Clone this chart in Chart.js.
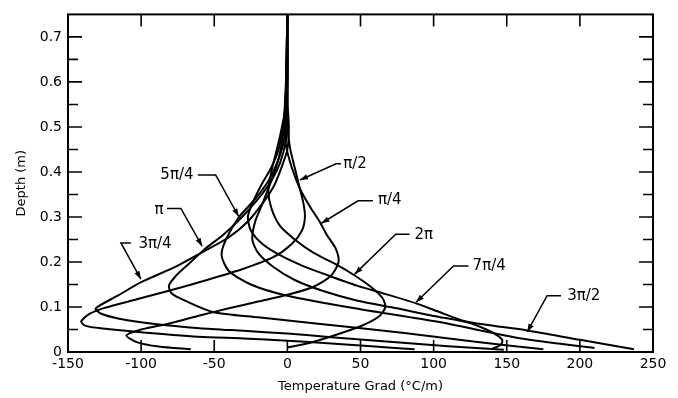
<!DOCTYPE html>
<html>
<head>
<meta charset="utf-8">
<script src="https://cdn.jsdelivr.net/npm/chart.js@4.4.1/dist/chart.umd.min.js"></script>
<style>
  html, body { margin: 0; padding: 0; background: #fff; }
  #wrap { width: 678px; height: 398px; }
</style>
</head>
<body>
<div id="wrap"><canvas id="chart"></canvas></div>
<script>
// Depth (m) and temperature gradient (degC/m)
const depth_3pi2 = [0.006, 0.027, 0.048, 0.067, 0.09, 0.108, 0.128, 0.147, 0.17, 0.192, 0.215, 0.24, 0.27, 0.3, 0.33, 0.37, 0.41, 0.45, 0.5, 0.56, 0.62, 0.75];
const grad_3pi2  = [237, 200, 164, 123, 103, 88, 68, 48, 28, 10, -5, -17, -25, -27, -24, -18, -11, -6, -3, -1, 0, 0];

const depth_7pi4 = [0.007, 0.016, 0.026, 0.036, 0.05, 0.066, 0.08, 0.097, 0.114, 0.135, 0.16, 0.19, 0.22, 0.25, 0.29, 0.33, 0.38, 0.43, 0.48, 0.54, 0.6, 0.75];
const grad_7pi4  = [140, 146, 147, 144, 136, 123, 100, 75, 48, 25, 5, -10, -20, -24, -22, -17, -11, -6, -3, -1, 0, 0];

const depth_2pi = [0.01, 0.02, 0.04, 0.06, 0.08, 0.1, 0.12, 0.145, 0.17, 0.195, 0.22, 0.25, 0.28, 0.32, 0.36, 0.4, 0.44, 0.48, 0.53, 0.58, 0.75];
const grad_2pi  = [0, 15, 35, 52, 63, 67, 65, 57, 46, 33, 18, 5, -5, -11, -13, -11, -8, -5, -2, -1, 0];

const depth_pi4 = [0.006, 0.012, 0.022, 0.037, 0.05, 0.064, 0.081, 0.097, 0.112, 0.127, 0.145, 0.17, 0.2, 0.23, 0.26, 0.29, 0.32, 0.36, 0.41, 0.46, 0.52, 0.6, 0.75];
const grad_pi4  = [-66, -88, -103, -110, -100, -80, -60, -40, -20, 0, 18, 30, 35, 33, 27, 22, 16, 9, 3, -1, -2, -1, 0];

const depth_pi2 = [0.006, 0.012, 0.019, 0.025, 0.03, 0.034, 0.045, 0.052, 0.058, 0.068, 0.085, 0.098, 0.117, 0.136, 0.16, 0.185, 0.21, 0.24, 0.27, 0.3, 0.33, 0.37, 0.41, 0.45, 0.5, 0.56, 0.75];
const grad_pi2  = [87, 60, 30, 0, -30, -61, -104, -126, -138, -141, -135, -125, -103, -81, -55, -30, -10, 3, 10, 12, 11, 8, 5, 2, 0, -1, 0];

const depth_3pi4 = [0.005, 0.013, 0.023, 0.033, 0.041, 0.047, 0.053, 0.063, 0.074, 0.086, 0.097, 0.125, 0.155, 0.19, 0.222, 0.255, 0.29, 0.33, 0.37, 0.41, 0.45, 0.5, 0.56, 0.75];
const grad_3pi4  = [148, 110, 70, 30, 0, -30, -60, -92, -115, -128, -131, -116, -100, -76, -58, -40, -27, -17, -9, -4, 0, 1, 0, 0];

const depth_pi = [0.006, 0.022, 0.042, 0.063, 0.077, 0.089, 0.114, 0.13, 0.147, 0.17, 0.2, 0.23, 0.26, 0.3, 0.34, 0.38, 0.42, 0.47, 0.52, 0.75];
const grad_pi  = [175, 130, 80, 21, -20, -51, -70, -79, -81, -76, -66, -56, -44, -31, -20, -11, -5, -1, 0, 0];

const depth_5pi4 = [0.009, 0.03, 0.067, 0.095, 0.125, 0.15, 0.18, 0.215, 0.25, 0.3, 0.34, 0.38, 0.42, 0.46, 0.5, 0.56, 0.75];
const grad_5pi4  = [210, 160, 103, 50, 0, -25, -40, -45, -42, -33, -22, -13, -7, -3, -1, 0, 0];

// Axis ticks
const xTicks = [-150, -100, -50, 0, 50, 100, 150, 200, 250];
const yTicks = [0, 0.1, 0.2, 0.3, 0.4, 0.5, 0.6, 0.7];
const yMinorTicks = [0.05, 0.15, 0.25, 0.35, 0.45, 0.55, 0.65];

// Curve labels: text, text centre, leader start, elbow and arrow tip (data units)
const labelText  = ["5\u03C0/4", "\u03C0/2", "\u03C0", "\u03C0/4", "3\u03C0/4", "2\u03C0", "7\u03C0/4", "3\u03C0/2"];
const labelPos   = [[-75.5, 0.393], [46.3, 0.418], [-87.8, 0.316], [70, 0.3385], [-90.5, 0.24], [93.2, 0.259], [138, 0.191], [202.7, 0.125]];
const labelStart = [[-61.2, 0.393], [36.7, 0.418], [-82.3, 0.319], [58.5, 0.336], [-107, 0.2424], [83.5, 0.2615], [123.8, 0.191], [187.1, 0.125]];
const labelElbow = [[-49, 0.393], [33.3, 0.418], [-72.8, 0.319], [48.3, 0.336], [-113.8, 0.2424], [74.1, 0.2615], [113.6, 0.191], [177.6, 0.125]];
const labelTip   = [[-33.3, 0.301], [8.6, 0.382], [-58.3, 0.235], [23.3, 0.286], [-100.2, 0.162], [46, 0.173], [88, 0.1105], [164, 0.0446]];

const curves = [
  [depth_3pi2, grad_3pi2],
  [depth_7pi4, grad_7pi4],
  [depth_2pi, grad_2pi],
  [depth_pi4, grad_pi4],
  [depth_pi2, grad_pi2],
  [depth_3pi4, grad_3pi4],
  [depth_pi, grad_pi],
  [depth_5pi4, grad_5pi4],
];

const FONT = "'DejaVu Sans', sans-serif";

// Frame, inward tick marks and curve labels
const decorPlugin = {
  id: "decor",
  afterDraw(chart) {
    const ctx = chart.ctx;
    const a = chart.chartArea;
    const xs = chart.scales.x;
    const ys = chart.scales.y;
    ctx.save();
    ctx.strokeStyle = "#000";
    ctx.lineWidth = 2;
    ctx.strokeRect(a.left, a.top, a.right - a.left, a.bottom - a.top);

    ctx.lineWidth = 1.6;
    ctx.beginPath();
    xTicks.forEach(function (v) {
      const px = xs.getPixelForValue(v);
      if (px <= a.left + 1 || px >= a.right - 1) return;
      ctx.moveTo(px, a.bottom); ctx.lineTo(px, a.bottom - 12);
      ctx.moveTo(px, a.top); ctx.lineTo(px, a.top + 12);
    });
    yTicks.forEach(function (v) {
      const py = ys.getPixelForValue(v);
      if (py >= a.bottom - 1) return;
      ctx.moveTo(a.left, py); ctx.lineTo(a.left + 14, py);
      ctx.moveTo(a.right, py); ctx.lineTo(a.right - 14, py);
    });
    yMinorTicks.forEach(function (v) {
      const py = ys.getPixelForValue(v);
      ctx.moveTo(a.left, py); ctx.lineTo(a.left + 10, py);
      ctx.moveTo(a.right, py); ctx.lineTo(a.right - 10, py);
    });
    ctx.stroke();

    // labels with leader arrows
    ctx.font = "15px " + FONT;
    ctx.fillStyle = "#000";
    ctx.textAlign = "center";
    ctx.textBaseline = "middle";
    ctx.lineWidth = 1.5;
    labelText.forEach(function (t, i) {
      const tx = xs.getPixelForValue(labelPos[i][0]);
      const ty = ys.getPixelForValue(labelPos[i][1]);
      ctx.fillText(t, tx, ty);
      const sx = xs.getPixelForValue(labelStart[i][0]);
      const sy = ys.getPixelForValue(labelStart[i][1]);
      const ex = xs.getPixelForValue(labelElbow[i][0]);
      const ey = ys.getPixelForValue(labelElbow[i][1]);
      const px = xs.getPixelForValue(labelTip[i][0]);
      const py = ys.getPixelForValue(labelTip[i][1]);
      ctx.beginPath();
      ctx.moveTo(sx, sy); ctx.lineTo(ex, ey); ctx.lineTo(px, py);
      ctx.stroke();
      const ang = Math.atan2(py - ey, px - ex);
      const len = 8, half = 2.8;
      ctx.beginPath();
      ctx.moveTo(px, py);
      ctx.lineTo(px - len * Math.cos(ang) + half * Math.sin(ang), py - len * Math.sin(ang) - half * Math.cos(ang));
      ctx.lineTo(px - len * Math.cos(ang) - half * Math.sin(ang), py - len * Math.sin(ang) + half * Math.cos(ang));
      ctx.closePath();
      ctx.fill();
    });
    ctx.restore();
  },
};

const datasets = curves.map(function (c) {
  return {
    data: c[0].map(function (z, i) { return { x: c[1][i], y: z }; }),
    borderColor: "#000",
    borderWidth: 2,
    pointRadius: 0,
    tension: 0.25,
    fill: false,
  };
});

new Chart(document.getElementById("chart"), {
  type: "line",
  data: { datasets: datasets },
  options: {
    responsive: true,
    maintainAspectRatio: false,
    animation: false,
    layout: { padding: { top: 10, right: 25, left: 0, bottom: 0 } },
    plugins: { legend: { display: false }, tooltip: { enabled: false } },
    scales: {
      x: {
        type: "linear",
        min: -150,
        max: 250,
        afterFit: function (s) { s.height = 46; },
        grid: { display: false, drawTicks: false },
        border: { display: false },
        ticks: { stepSize: 50, padding: 4, color: "#000", font: { family: FONT, size: 14 } },
        title: { display: true, text: "Temperature Grad (\u00B0C/m)", color: "#000", font: { family: FONT, size: 13 }, padding: { top: 0, bottom: 4 } },
      },
      y: {
        type: "linear",
        min: 0,
        max: 0.75,
        afterFit: function (s) { s.width = 68; },
        grid: { display: false, drawTicks: false },
        border: { display: false },
        ticks: {
          stepSize: 0.1,
          padding: 6,
          color: "#000",
          font: { family: FONT, size: 14 },
          callback: function (v) {
            const r = Math.round(v * 100);
            if (r % 10 !== 0) return "";
            return r === 0 ? "0" : (r / 100).toFixed(1);
          },
        },
        title: { display: true, text: "Depth (m)", color: "#000", font: { family: FONT, size: 13 }, padding: { top: 14, bottom: 0 } },
      },
    },
  },
  plugins: [decorPlugin],
});
</script>
</body>
</html>
